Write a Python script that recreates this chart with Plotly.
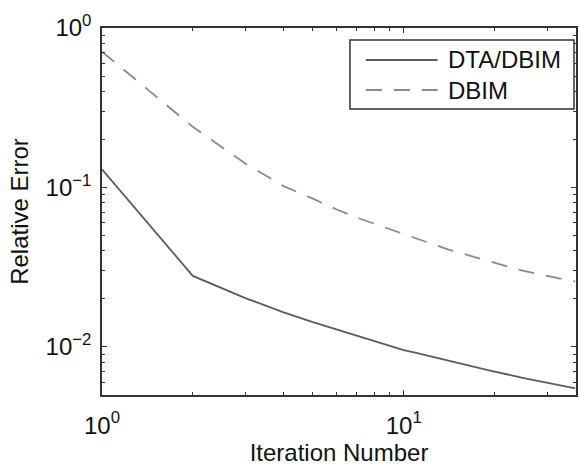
import plotly.graph_objects as go

# Iteration index and relative error of the two reconstruction schemes
iterations = list(range(1, 38))
err_dta_dbim = [
    0.130, 0.0279, 0.0202, 0.01648, 0.01432, 0.01288, 0.01178, 0.01089, 0.01018, 0.00957,
    0.00918, 0.00881, 0.00851, 0.00822, 0.00798, 0.00775, 0.00754, 0.00735, 0.00717, 0.00700,
    0.00686, 0.00673, 0.00661, 0.00649, 0.00638, 0.00628, 0.00618, 0.00609, 0.00600, 0.00592,
    0.00585, 0.00579, 0.00573, 0.00568, 0.00562, 0.00557, 0.00552,
]
err_dbim = [
    0.710, 0.240, 0.1406, 0.102, 0.0851, 0.0728, 0.0647, 0.0592, 0.0547, 0.0509,
    0.0479, 0.0451, 0.0428, 0.0409, 0.0394, 0.0380, 0.0369, 0.0357, 0.0347, 0.0338,
    0.0329, 0.0321, 0.0313, 0.0306, 0.0300, 0.0294, 0.0289, 0.0286, 0.0282, 0.0279,
    0.0275, 0.0272, 0.0269, 0.0266, 0.0263, 0.0260, 0.0258,
]
series_names = ["DTA/DBIM", "DBIM"]

x_tickvals = [1, 10]
x_ticktext = ["10<sup>0</sup>", "10<sup>1</sup>"]
y_tickvals = [0.01, 0.1, 1]
y_ticktext = ["10<sup>−2</sup>", "10<sup>−1</sup>", "10<sup>0</sup>"]

W, H = 579, 466
L, R, T, B = 102, 1, 28, 71
FONT = "Liberation Sans, Arial, Helvetica, sans-serif"
TEXT_COLOR = "#111111"
SOLID_COLOR = "#5c5c5c"
DASH_COLOR = "#8a8a8a"
DASH_STYLE = "16px,12px"
FS = 24

fig = go.Figure()
fig.add_trace(go.Scatter(x=iterations, y=err_dta_dbim, mode="lines", name=series_names[0],
                         line=dict(color=SOLID_COLOR, width=1.8), showlegend=False))
fig.add_trace(go.Scatter(x=iterations, y=err_dbim, mode="lines", name=series_names[1],
                         line=dict(color=DASH_COLOR, width=1.8, dash=DASH_STYLE), showlegend=False))

axis_common = dict(
    showline=True, linecolor="#333333", linewidth=1.5, mirror="allticks",
    ticks="inside", ticklen=5, tickcolor="#333333", tickwidth=1,
    showgrid=False, zeroline=False,
    minor=dict(ticks="inside", ticklen=3, tickcolor="#333333", tickwidth=1,
               dtick="D1", showgrid=False),
    tickfont=dict(family=FONT, size=FS, color=TEXT_COLOR),
)

fig.update_xaxes(type="log", range=[0, 1.571], tickvals=x_tickvals, ticktext=x_ticktext,
                 ticklabelstandoff=8,
                 title=dict(text="Iteration Number", font=dict(family=FONT, size=FS, color=TEXT_COLOR),
                            standoff=6),
                 **axis_common)
fig.update_yaxes(type="log", range=[-2.301, 0], tickvals=y_tickvals, ticktext=y_ticktext,
                 ticklabelstandoff=4,
                 title=dict(text="Relative Error", font=dict(family=FONT, size=FS, color=TEXT_COLOR),
                            standoff=10),
                 **axis_common)

pw, ph = W - L - R, H - T - B


def px(x):
    return (x - L) / pw


def py(y):
    return (H - B - y) / ph


# Legend box drawn in paper space
shapes = [dict(type="rect", xref="paper", yref="paper", x0=px(351), x1=px(576), y0=py(109), y1=py(40),
               line=dict(color="#333333", width=1.5), fillcolor="white", layer="above")]
annotations = []
for i, (name, color, dash) in enumerate([(series_names[0], SOLID_COLOR, "solid"),
                                         (series_names[1], DASH_COLOR, DASH_STYLE)]):
    yy = 60 + 30 * i
    shapes.append(dict(type="line", xref="paper", yref="paper", x0=px(367), x1=px(439),
                       y0=py(yy), y1=py(yy), line=dict(color=color, width=1.8, dash=dash),
                       layer="above"))
    annotations.append(dict(xref="paper", yref="paper", x=px(447), y=py(yy), text=name,
                            showarrow=False, xanchor="left", yanchor="middle",
                            font=dict(family=FONT, size=FS, color=TEXT_COLOR)))

fig.update_layout(
    width=W, height=H,
    margin=dict(l=L, r=R, t=T, b=B),
    paper_bgcolor="white", plot_bgcolor="white",
    shapes=shapes, annotations=annotations,
    showlegend=False,
)

fig.write_html("out.html")
